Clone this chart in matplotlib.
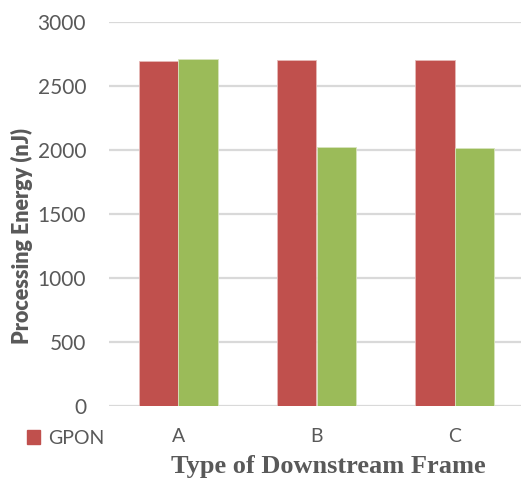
import matplotlib.pyplot as plt
import numpy as np
from matplotlib.patches import Patch

categories = ['A', 'B', 'C']
gpon = [2698, 2703, 2703]
other = [2708, 2021, 2018]
yticks = [0, 500, 1000, 1500, 2000, 2500, 3000]

red = '#C0504D'
green = '#9BBB59'
gray = '#595959'

W, H = 521, 479
fig = plt.figure(figsize=(W / 100, H / 100), dpi=100)
ax = fig.add_axes([109 / W, (H - 406) / H, 415 / W, 384 / H])

x = np.arange(len(categories))
bw = 0.286
ax.bar(x - bw / 2, gpon, bw, color=red, edgecolor='#E6B9B8', linewidth=0.6, zorder=3)
ax.bar(x + bw / 2, other, bw, color=green, edgecolor='#D7E4BD', linewidth=0.6, zorder=3)

ax.set_xlim(-0.5, 2.5)
ax.set_ylim(0, 3000)
ax.set_yticks(yticks)
ax.set_yticklabels([str(v) for v in yticks], fontsize=15, color=gray, family='Lato')
ax.set_xticks(x)
ax.set_xticklabels(categories, fontsize=14, color=gray, family='Lato')
ax.tick_params(length=0, pad=16.5, axis='y')
ax.tick_params(length=0, pad=16, axis='x')
ax.grid(axis='y', color='#D9D9D9', linewidth=1.6, zorder=0)
ax.set_axisbelow(True)
for s in ax.spines.values():
    s.set_visible(False)

fig.text(22 / W, 1 - 236 / H, 'Processing Energy (nJ)', rotation=90, ha='center', va='center',
         fontsize=15.5, fontweight='heavy', color=gray, family='Lato')
fig.text(328 / W, 1 - 466 / H, 'Type of Downstream Frame', ha='center', va='center',
         fontsize=19, fontweight='bold', color=gray, family='Liberation Serif')

fig.legend(handles=[Patch(color=red, label='GPON')], loc='center left',
           bbox_to_anchor=(9 / W, 1 - 438 / H), frameon=False,
           handlelength=0.7, handleheight=0.7, handletextpad=0.4,
           prop={'family': 'Lato', 'size': 14})
for t in fig.legends[0].get_texts():
    t.set_color(gray)

fig.savefig('out.png', dpi=100)
